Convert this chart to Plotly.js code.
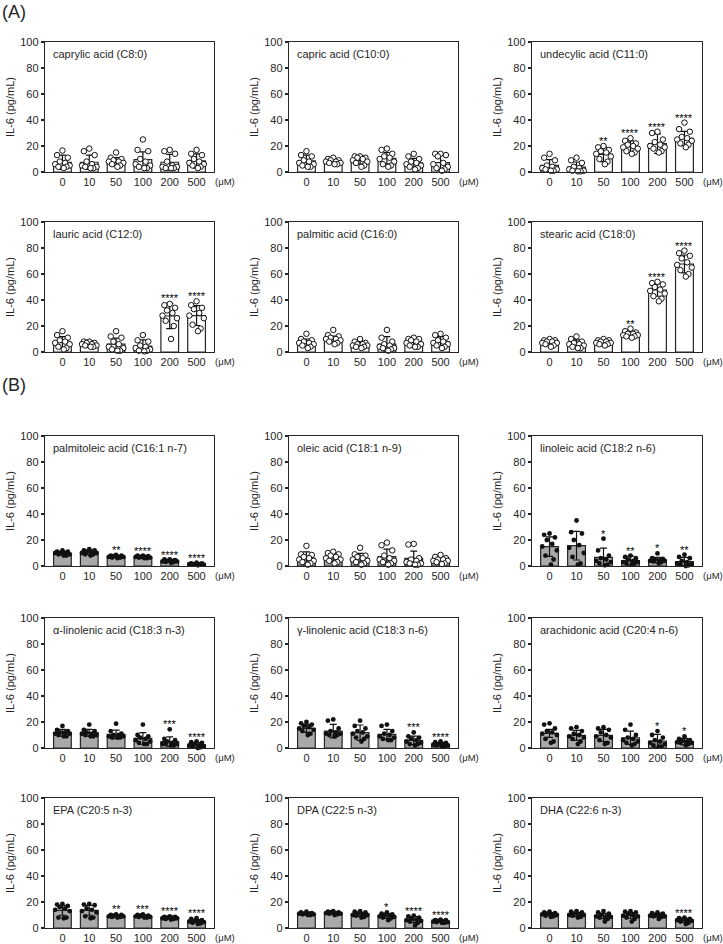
<!DOCTYPE html>
<html>
<head>
<meta charset="utf-8">
<script src="https://cdn.plot.ly/plotly-3.0.1.min.js"></script>
<style>html,body{margin:0;padding:0;background:#fff}#chart{width:723px;height:944px}</style>
</head>
<body>
<div id="chart"></div>
<script>
const doses = ["0","10","50","100","200","500"];

// (A) saturated fatty acids
const caprylicPts = [[16.5,13,11,8,7,6,5,4,4,3],[18,16,13,8,6,5,4,4,3,3],[15,11,10,9,8,8,7,6,5,4],[25,17,16,10,8,6,5,4,3,3],[17,16,14,8,5,4,4,3,3,3],[17,14,13,10,8,7,6,5,4,3]];
const caprylicMean = [7.5,7.5,8,9.5,7.5,8.5];
const caprylicSD = [5.5,5.5,3,6,6,5.5];
const caprylicStars = ["","","","","",""];

const capricPts = [[16,13,12,9,8,7,6,5,4,4],[11,10,9,9,8,8,7,7,6,6],[12,12,11,11,10,9,8,7,5,4],[18,17,14,12,11,10,8,6,5,4],[14,12,10,8,7,6,5,4,3,2],[14,14,13,12,7,6,4,3,2,1]];
const capricMean = [8.5,8,9,10.5,7,7.2];
const capricSD = [4.5,2,3,4.5,3.5,5.5];
const capricStars = ["","","","","",""];

const undecylicPts = [[14,11,9,5,4,3,2,2,1,1],[11,9,7,4,3,2,1,1,0.5,0.5],[20,19,17,16,15,14,12,10,8,6],[26,24,22,21,20,19,18,16,15,14],[31,30,25,23,21,20,19,18,16,15],[38,33,31,27,26,25,24,22,21,19]];
const undecylicMean = [5.1,3.8,13.6,19.5,21.8,25.8];
const undecylicSD = [4.4,3.9,5.6,4.5,7.5,5.5];
const undecylicStars = ["","","**","****","****","****"];

const lauricPts = [[16,13,11,9,8,7,6,4,3,2],[8,8,7,7,6,6,5,5,4,4],[16,12,11,8,6,4,3,2,1,1],[13,9,8,5,4,3,2,1,1,0.5],[37,36,34,32,30,28,26,24,20,10],[39,36,34,33,30,28,26,21,18,16]];
const lauricMean = [7.5,6,6,4.5,27.7,28];
const lauricSD = [4.4,2.5,4.6,4.8,9.7,7.6];
const lauricStars = ["","","","","****","****"];

const palmiticPts = [[14,10,9,8,7,7,6,5,4,3],[17,13,12,11,10,10,9,8,7,6],[10,8,7,6,6,5,5,4,4,3],[17,11,8,6,5,4,3,3,2,1],[11,10,10,9,8,7,6,5,4,4],[14,13,11,9,8,7,6,5,4,3]];
const palmiticMean = [7.2,10,5.8,6,7.4,8];
const palmiticSD = [2.8,2.2,2,5.8,3.1,3.8];
const palmiticStars = ["","","","","",""];

const stearicPts = [[10,9,9,8,8,7,7,6,5,4],[12,10,8,7,6,6,5,4,3,3],[10,9,9,8,8,7,7,6,6,5],[18,16,15,14,14,13,13,12,12,11],[54,53,52,50,48,47,45,43,41,39],[78,76,74,72,69,67,65,63,60,58]];
const stearicMean = [7.4,6.4,7.4,13.6,47.7,67.7];
const stearicSD = [2.4,3,2,2.2,4.8,6.9];
const stearicStars = ["","","","**","****","****"];

// (B) unsaturated fatty acids
const palmitoleicPts = [[12,11,11,10,10,10,9,9,8,8],[13,12,12,11,11,10,10,9,9,8],[8.5,8,8,7.5,7,7,7,6.5,6.5,6],[8,8,7.5,7,7,7,6.5,6.5,6,6],[5,5,4.5,4,4,3.5,3.5,3,3,2.5],[2.5,2,2,1.5,1.5,1.5,1,1,1,0.5]];
const palmitoleicMean = [9.7,10.5,7.2,6.9,3.8,1.5];
const palmitoleicSD = [1.3,1.6,0.8,0.7,0.8,0.6];
const palmitoleicStars = ["","","**","****","****","****"];

const oleicPts = [[15.5,9,8.5,7,6,5,4,3,2,1],[11,10,9,8,7,6,5,4,3,2],[14,9,8,7,6,5,4,3,2,1],[18,16,12,8,6,5,4,3,2,1],[17,16.5,6,5,4,3,2,2,1,1],[8.5,7,6,5,5,4,4,3,2,1.5]];
const oleicMean = [5.9,6.4,5.9,7.2,5.9,4.6];
const oleicSD = [5,2.8,3.8,5.8,5.6,1.8];
const oleicStars = ["","","","","",""];

const linoleicPts = [[25,24,22,20,17,15,12,8,5,1],[35,26,25,20,16,14,10,7,2,1],[21,12,8,6,5,4,3,2,1,0.5],[8,7,6,5,4,3,3,2,2,1],[9.7,6,5.5,5,4.5,4,4,3.5,3,2],[8.7,7,6,4,3,2,1.5,1,0.5,0]];
const linoleicMean = [14.9,15.6,6.7,4.1,4.6,3.3];
const linoleicSD = [7.5,11,7,3.5,2,3.3];
const linoleicStars = ["","","*","**","*","**"];

const alaPts = [[17,14,13,12,12,11,11,10,9,9],[18,14,13,12,11,11,10,10,9,9],[18.7,13,11,10,10,9,9,8,8,8],[18,10,9,8,7,6,5,4,3,3],[14.4,7,6,5,4,3,3,3,2,2],[5,4.5,4,3,2,2,1.5,1,0.5,0]];
const alaMean = [11.8,11.8,10.5,7.4,4.9,2.3];
const alaSD = [2.6,2.6,3.3,4.5,3.6,1.8];
const alaStars = ["","","","","***","****"];

const glaPts = [[20,19,18,17,16,15,14,13,11,10],[22,21,15,13,12,11,11,10,10,9],[21,17,15,13,12,11,9,8,7,5],[18,17,13,11,10,9,8,7,6,6],[12,9,8,7,6,5,4,3,3,2],[5,4.5,4,3,3,2.5,2,2,1.5,1]];
const glaMean = [15.1,13,11.8,10.5,5.9,2.8];
const glaSD = [3.1,5.2,5.9,3.9,3.3,1.3];
const glaStars = ["","","","","***","****"];

const arachidonicPts = [[19,18,15,13,12,11,10,7,5,4],[16,15,13,11,10,9,8,7,5,3],[16,15,14,12,10,9,8,6,4,3],[18,14,10,8,7,6,5,4,3,2],[13,10,8,6,5,4,3,2,1,1],[9,7,6,5.5,5,4.5,4,4,3,2]];
const arachidonicMean = [11.3,9.7,9.7,7.9,5.4,4.9];
const arachidonicSD = [3.1,3.9,4.7,5.1,5.1,2.5];
const arachidonicStars = ["","","","","*","*"];

const epaPts = [[18.5,18,17,16,15,14,13,8,8,7.5],[18.5,18,17.5,15,14,13,12,9,8,7.5],[10.5,10,10,9.5,9,9,9,8.5,8.5,8],[10.5,10,9.5,9.5,9,9,8.5,8.5,8,8],[9,8.5,8.5,8,8,7.5,7.5,7,7,6.5],[7.5,7,6,5.5,5,5,4.5,4,3.5,3]];
const epaMean = [13.6,13.6,9.2,9,7.7,5.1];
const epaSD = [3.8,3.8,0.8,0.8,0.8,1.3];
const epaStars = ["","","**","***","****","****"];

const dpaPts = [[12.5,12,11.5,11,11,11,10.5,10.5,10,10],[13,12.5,12,12,11.5,11.5,11,11,10.5,10],[13,12.5,12,11,10.5,10,10,9.5,8.5,8],[12,11,10.5,10,9.5,9,8.5,8,7.5,6],[9.5,9,8,7,6.5,6,5.5,5,4,2],[6.5,6,6,5.5,5,5,4.5,4.5,4,4]];
const dpaMean = [11,11.5,10.5,9.2,6.4,5.1];
const dpaSD = [0.8,0.9,1.6,1.8,2.3,0.8];
const dpaStars = ["","","","*","****","****"];

const dhaPts = [[12.5,12,11.5,11,10.5,10.5,10,9.5,9,8.5],[13,12.5,12,11,10.5,10,10,9.5,8.5,8],[13,12,11,10,9,9,8.5,8,7,5],[13,12.5,12,11,10,9.5,9,8,7,5],[12,11.5,11,10,10,9.5,9,9,8.5,7],[8,7.5,7,6.5,6,6,5.5,5,4,3]];
const dhaMean = [10.5,10.5,9.2,9.7,9.7,5.9];
const dhaSD = [1.2,1.5,2,2.2,1.4,1.5];
const dhaStars = ["","","","","","****"];

const panelTitles = ["caprylic acid (C8:0)","capric acid (C10:0)","undecylic acid (C11:0)","lauric acid (C12:0)","palmitic acid (C16:0)","stearic acid (C18:0)","palmitoleic acid (C16:1 n-7)","oleic acid (C18:1 n-9)","linoleic acid (C18:2 n-6)","α-linolenic acid (C18:3 n-3)","γ-linolenic acid (C18:3 n-6)","arachidonic acid (C20:4 n-6)","EPA (C20:5 n-3)","DPA (C22:5 n-3)","DHA (C22:6 n-3)"];

const panels = [
  {pts:caprylicPts, mean:caprylicMean, sd:caprylicSD, stars:caprylicStars, gray:false, open:true},
  {pts:capricPts, mean:capricMean, sd:capricSD, stars:capricStars, gray:false, open:true},
  {pts:undecylicPts, mean:undecylicMean, sd:undecylicSD, stars:undecylicStars, gray:false, open:true},
  {pts:lauricPts, mean:lauricMean, sd:lauricSD, stars:lauricStars, gray:false, open:true},
  {pts:palmiticPts, mean:palmiticMean, sd:palmiticSD, stars:palmiticStars, gray:false, open:true},
  {pts:stearicPts, mean:stearicMean, sd:stearicSD, stars:stearicStars, gray:false, open:true},
  {pts:palmitoleicPts, mean:palmitoleicMean, sd:palmitoleicSD, stars:palmitoleicStars, gray:true, open:false},
  {pts:oleicPts, mean:oleicMean, sd:oleicSD, stars:oleicStars, gray:true, open:true},
  {pts:linoleicPts, mean:linoleicMean, sd:linoleicSD, stars:linoleicStars, gray:true, open:false},
  {pts:alaPts, mean:alaMean, sd:alaSD, stars:alaStars, gray:true, open:false},
  {pts:glaPts, mean:glaMean, sd:glaSD, stars:glaStars, gray:true, open:false},
  {pts:arachidonicPts, mean:arachidonicMean, sd:arachidonicSD, stars:arachidonicStars, gray:true, open:false},
  {pts:epaPts, mean:epaMean, sd:epaSD, stars:epaStars, gray:true, open:false},
  {pts:dpaPts, mean:dpaMean, sd:dpaSD, stars:dpaStars, gray:true, open:false},
  {pts:dhaPts, mean:dhaMean, sd:dhaSD, stars:dhaStars, gray:true, open:false}
];

// layout geometry (pixels)
const W = 723, H = 944;
const colPx = [[45,214],[289,458],[532,702]];
const rowPx = [[42,172],[222,352],[436,566],[618,748],[798,928]];
const jitter = [0,-0.2,0.2,-0.1,0.1,-0.27,0.27,-0.15,0.15,0.05];
const FONT = "Liberation Sans, Arial, Helvetica, sans-serif";
const INK = "#262626";

const traces = [];
const layout = {
  width: W, height: H,
  margin: {l:0, r:0, t:0, b:0},
  paper_bgcolor: "#fff", plot_bgcolor: "#fff",
  showlegend: false,
  font: {family: FONT, size: 11, color: INK},
  annotations: [],
  bargap: 0
};

panels.forEach((p, i) => {
  const k = i + 1;
  const sfx = k === 1 ? "" : String(k);
  const xa = "x" + sfx, ya = "y" + sfx;
  const c = colPx[i % 3], r = rowPx[Math.floor(i / 3)];
  const cats = doses.map((d, j) => j);

  traces.push({
    type: "bar", x: cats, y: p.mean, width: 0.66, xaxis: xa, yaxis: ya,
    marker: {color: p.gray ? "#a9a9a9" : "#ffffff", line: {color: INK, width: 1.2}},
    error_y: {type: "data", array: p.sd, visible: true, color: "#111", thickness: 1.2, width: 3.5},
    hoverinfo: "skip"
  });

  const px = [], py = [];
  p.pts.forEach((g, j) => g.forEach((v, n) => { px.push(j + jitter[n % jitter.length]); py.push(v); }));
  traces.push({
    type: "scatter", mode: "markers", x: px, y: py, xaxis: xa, yaxis: ya, cliponaxis: false,
    marker: p.open
      ? {size: 5.5, color: "#ffffff", line: {color: "#111", width: 1}}
      : {size: 4.8, color: "#111", line: {width: 0}},
    hoverinfo: "skip"
  });

  layout["xaxis" + sfx] = {
    domain: [c[0] / W, c[1] / W], anchor: ya,
    range: [-0.65, 5.65], tickvals: cats, ticktext: doses,
    ticks: "", showline: true, mirror: true, linecolor: INK, linewidth: 1.2,
    showgrid: false, zeroline: false, tickfont: {size: 11, color: INK, family: FONT}, fixedrange: true
  };
  layout["yaxis" + sfx] = {
    domain: [1 - r[1] / H, 1 - r[0] / H], anchor: xa,
    range: [0, 100], tickvals: [0,20,40,60,80,100],
    ticks: "outside", ticklen: 3, tickwidth: 1.2, tickcolor: INK,
    showline: true, mirror: true, linecolor: INK, linewidth: 1.2,
    showgrid: false, zeroline: false, tickfont: {size: 11, color: INK, family: FONT}, fixedrange: true
  };

  // panel title
  layout.annotations.push({
    xref: xa + " domain", yref: ya + " domain", x: 0, y: 1, xshift: 6, yshift: -4,
    xanchor: "left", yanchor: "top", showarrow: false, text: panelTitles[i],
    font: {size: 11, color: INK, family: FONT}
  });
  // y axis title
  layout.annotations.push({
    xref: xa + " domain", yref: ya + " domain", x: 0, y: 0.5, xshift: -35,
    xanchor: "center", yanchor: "middle", textangle: -90, showarrow: false,
    text: "IL-6 (pg/mL)", font: {size: 11, color: INK, family: FONT}
  });
  // unit label
  layout.annotations.push({
    xref: xa + " domain", yref: ya + " domain", x: 1, y: 0, xshift: 0, yshift: -3,
    xanchor: "left", yanchor: "top", showarrow: false, text: "(μM)", borderpad: 0,
    font: {size: 9.5, color: INK, family: FONT}
  });
  // significance stars
  p.stars.forEach((s, j) => {
    if (!s) return;
    const top = Math.max(Math.max.apply(null, p.pts[j]), p.mean[j] + p.sd[j]);
    layout.annotations.push({
      xref: xa, yref: ya, x: j, y: top, yanchor: "bottom", xanchor: "center", yshift: -3,
      showarrow: false, text: s, font: {size: 11, color: "#000", family: FONT}
    });
  });
});

layout.annotations.push({xref:"paper", yref:"paper", x:0, y:1 - 12/H, xanchor:"left", yanchor:"middle", showarrow:false, text:"(A)", font:{size:18, color:INK, family:FONT}});
layout.annotations.push({xref:"paper", yref:"paper", x:0, y:1 - 385/H, xanchor:"left", yanchor:"middle", showarrow:false, text:"(B)", font:{size:18, color:INK, family:FONT}});

Plotly.newPlot("chart", traces, layout, {staticPlot: true, displayModeBar: false});
</script>
</body>
</html>
